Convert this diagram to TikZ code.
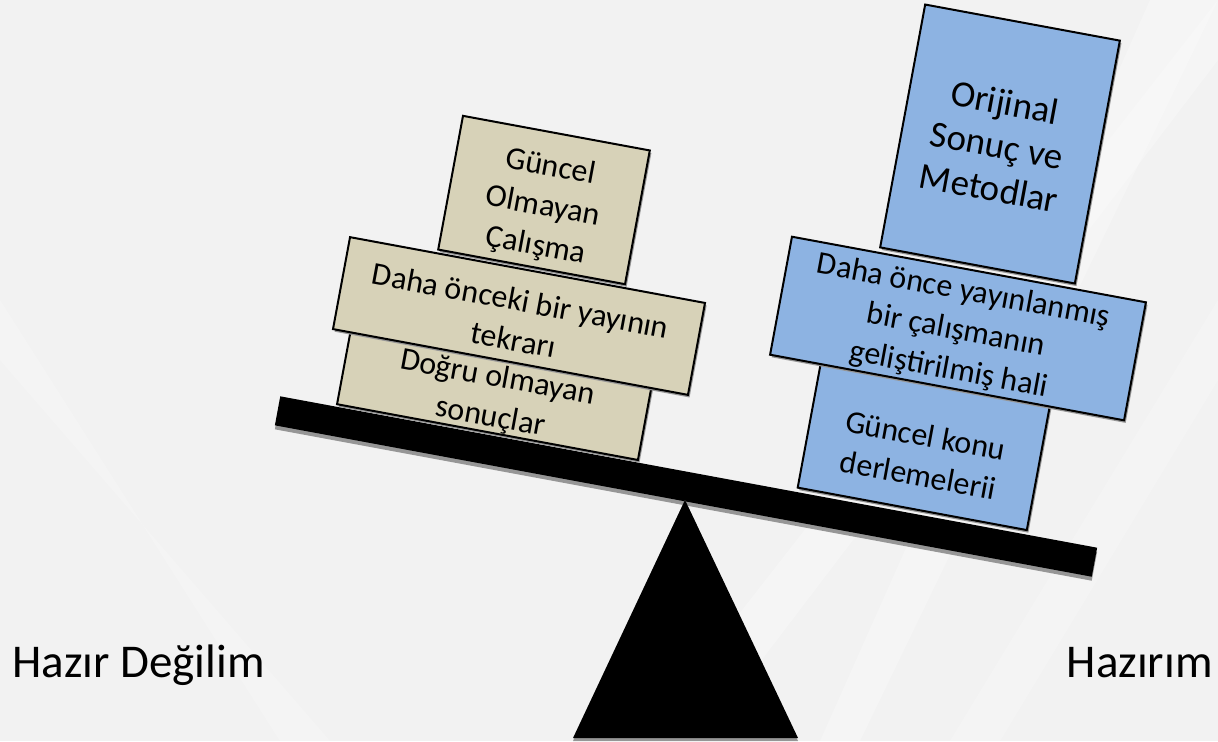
\documentclass[tikz,border=0pt]{standalone}
\usepackage{fontspec}
\setmainfont{Carlito}
\usetikzlibrary{shadows}
\definecolor{bgc}{RGB}{242,242,242}
\definecolor{tanfill}{RGB}{215,210,184}
\definecolor{bluefill}{RGB}{141,179,226}
\definecolor{shadowc}{RGB}{150,150,150}
\tikzset{
  tilt/.style={rotate=-10.5},
  boxbase/.style={tilt, draw=black, line width=1pt, inner sep=0pt, anchor=center,
    drop shadow={shadow xshift=0.8pt, shadow yshift=-1.3pt, fill=shadowc, opacity=1}},
  tanbox/.style={boxbase, fill=tanfill},
  bluebox/.style={boxbase, fill=bluefill},
  boxtext/.style={tilt, align=center, inner sep=0pt, anchor=center,
    font=\fontsize{16pt}{20pt}\selectfont},
  bigtext/.style={tilt, align=center, inner sep=0pt, anchor=center,
    font=\fontsize{18.5pt}{21.7pt}\selectfont},
  sidelabel/.style={inner sep=0pt, font=\fontsize{23.5pt}{28pt}\selectfont}
}
\begin{document}
\begin{tikzpicture}[x=0.5pt, y=-0.5pt]
\useasboundingbox (0,0) rectangle (1218,741);
% background
\fill[bgc] (0,0) rectangle (1218,741);
\fill[white, opacity=0.3] (1218,0) -- (1218,60) -- (700,741) -- (640,741) -- cycle;
\fill[white, opacity=0.25] (1150,0) -- (1218,0) -- (860,741) -- (820,741) -- cycle;
\fill[white, opacity=0.2] (1218,300) -- (1218,380) -- (1000,741) -- (950,741) -- cycle;
\fill[white, opacity=0.2] (0,300) -- (0,360) -- (330,741) -- (280,741) -- cycle;

% beam with shadow
\node[tilt, fill=shadowc, minimum width=415.4pt, minimum height=14.75pt, inner sep=0pt]
  (beamshadow) at (686,490.5) {};
\node[tilt, fill=black, minimum width=415.4pt, minimum height=14.75pt, inner sep=0pt]
  (beam) at (686,486.5) {};

% fulcrum
\coordinate (apex) at (685,500);
\coordinate (baseL) at (573,738);
\coordinate (baseR) at (798,738);
\fill[shadowc] ([yshift=-1.5pt]baseL) -- ([yshift=-1.5pt]baseR) -- (apex) -- cycle;
\fill[black] (apex) -- (baseL) -- (baseR) -- cycle;

% left stack
\node[tanbox, minimum width=153pt, minimum height=55pt] (lbot) at (497.5,378) {};
\node[boxtext] (lbottext) at (494,398) {Doğru olmayan\\sonuçlar};
\node[tanbox, minimum width=95pt, minimum height=68pt] (ltop) at (544,200) {};
\node[boxtext] (ltoptext) at (543,207) {Güncel\\Olmayan\\Çalışma};
\node[tanbox, minimum width=180.5pt, minimum height=46.75pt] (lmid) at (519,316) {};
\node[boxtext] (lmidtext) at (517,320) {Daha önceki bir yayının\\tekrarı};

% right stack
\node[bluebox, minimum width=99pt, minimum height=123.5pt] (rtop) at (1000,144) {};
\node[bigtext] (rtoptext) at (997,145) {Orijinal\\Sonuç ve\\Metodlar};
\node[bluebox, minimum width=116.5pt, minimum height=70pt] (rbot) at (925,440) {};
\node[boxtext] (rbottext) at (922,455) {Güncel konu\\derlemelerii};
\node[bluebox, minimum width=180pt, minimum height=60pt] (rmid) at (958,328.5) {};
\node[boxtext] (rmidtext) at (956,331) {Daha önce yayınlanmış\\bir çalışmanın\\geliştirilmiş hali};

% side labels
\node[sidelabel, anchor=base west] (notready) at (12,677) {Hazır Değilim};
\node[sidelabel, anchor=base east] (ready) at (1213,677) {Hazırım};
\end{tikzpicture}
\end{document}
